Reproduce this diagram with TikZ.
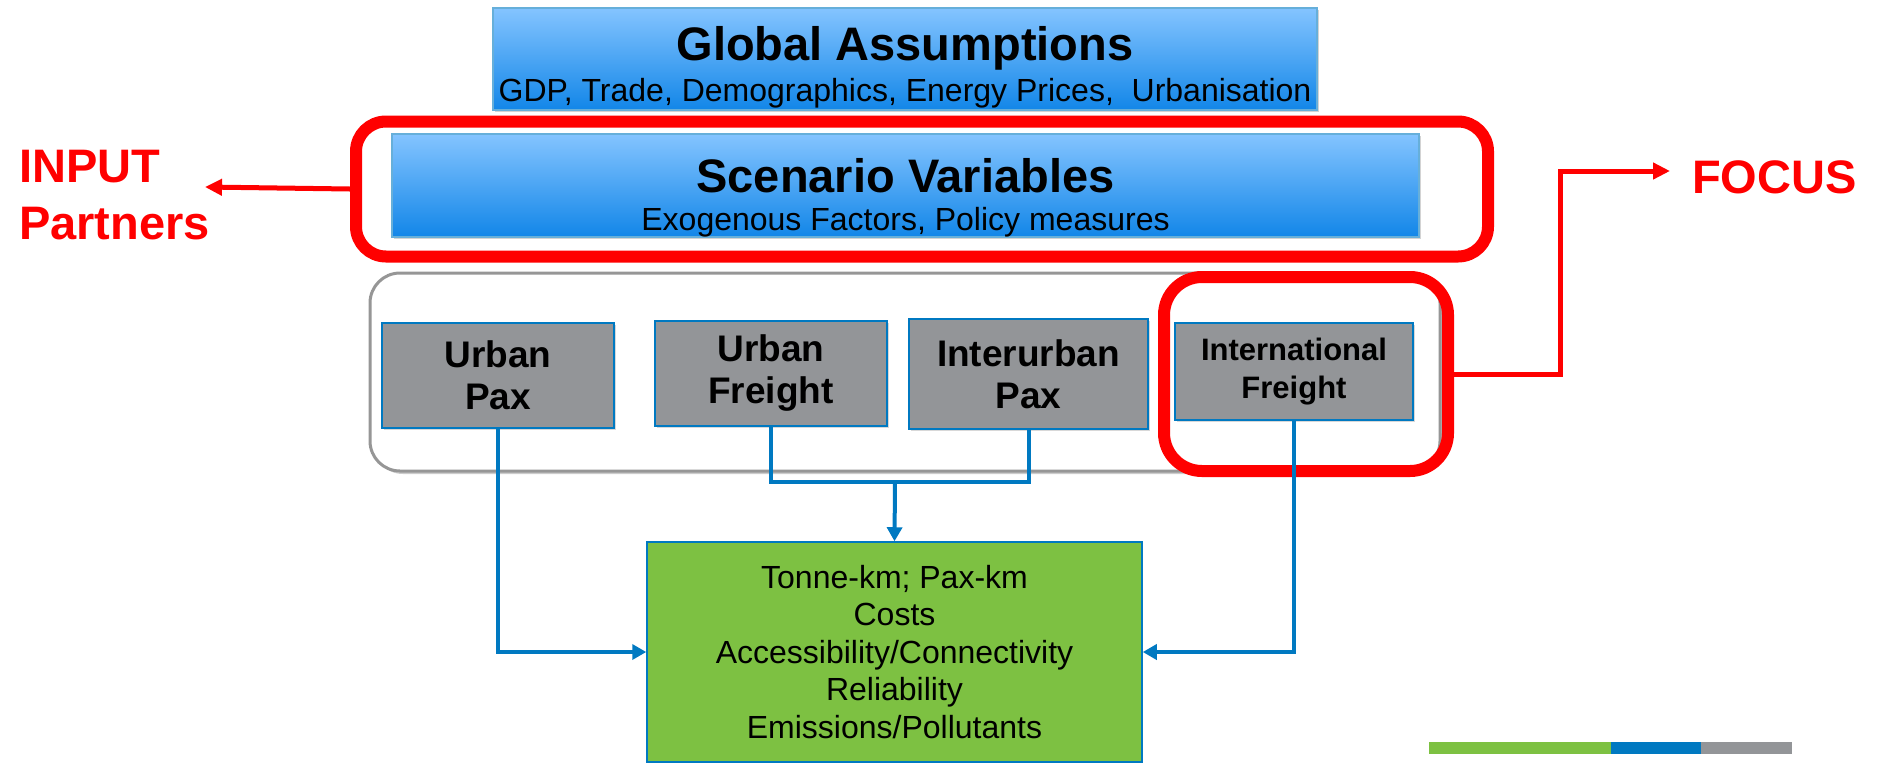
\documentclass[tikz,border=0pt]{standalone}
\usepackage{fontspec}
\setmainfont{Liberation Sans}
\usetikzlibrary{positioning,arrows.meta,shadows}

\definecolor{lightsky}{RGB}{132,196,255}
\definecolor{deepsky}{RGB}{18,134,232}
\definecolor{panelgrey}{RGB}{147,149,152}
\definecolor{leafgreen}{RGB}{125,193,66}
\definecolor{linkblue}{RGB}{0,121,193}
\definecolor{framegrey}{RGB}{150,150,150}

\begin{document}
\begin{tikzpicture}[x=1pt,y=-1pt,
    header/.style={draw=linkblue!60,line width=1.5pt,top color=lightsky,bottom color=deepsky,
      inner sep=0pt,drop shadow={shadow xshift=2pt,shadow yshift=-2pt,opacity=.35}},
    headtitle/.style={font=\fontsize{47}{52}\selectfont\bfseries,inner sep=0pt},
    headsub/.style={font=\fontsize{32}{38}\selectfont,inner sep=0pt},
    mode/.style={draw=linkblue,line width=1.5pt,fill=panelgrey,align=center,inner sep=0pt,
      font=\fontsize{37}{42}\selectfont\bfseries,drop shadow={shadow xshift=2pt,shadow yshift=-2pt,opacity=.3}},
    highlight/.style={draw=red,line width=12pt,rounded corners=30pt},
    flow/.style={draw=linkblue,line width=4pt,-{Triangle[length=14pt,width=15pt]}},
    callout/.style={draw=red,line width=5pt,-{Triangle[length=17pt,width=16pt]}},
    tag/.style={text=red,font=\fontsize{47}{57}\selectfont\bfseries,inner sep=0pt,align=left}]
  \useasboundingbox (0,0) rectangle (1878,764);

  % top: assumptions and scenario
  \node[header,minimum width=824pt,minimum height=102pt] (global) at (905,59) {};
  \node[headtitle,anchor=base] (globaltitle) at (905,60) {Global Assumptions};
  \node[headsub,anchor=base] (globalsub) at (905,101) {GDP, Trade, Demographics, Energy Prices,\ \ Urbanisation};

  \node[header,minimum width=1027pt,minimum height=103pt] (scenario) at (905.5,185.5) {};
  \node[headtitle,anchor=base] (scentitle) at (905.5,192) {Scenario Variables};
  \node[headsub,anchor=base] (scensub) at (905.5,230) {Exogenous Factors, Policy measures};

  \node[highlight,minimum width=1132pt,minimum height=135pt] (scenframe) at (922,189) {};

  % the four transport segments
  \node[draw=framegrey,fill=white,line width=3pt,rounded corners=30pt,minimum width=1070pt,minimum height=198pt,
    drop shadow={shadow xshift=3pt,shadow yshift=-3pt,opacity=.4}] (segments) at (905,372) {};
  \node[mode,minimum width=232pt,minimum height=105pt] (upax) at (498,375.5) {Urban\\Pax};
  \node[mode,minimum width=232pt,minimum height=105pt] (ufreight) at (771,373.5) {Urban\\Freight};
  \node[mode,minimum width=239pt,minimum height=110pt] (ipax) at (1028.5,374) {Interurban\\Pax};
  \node[mode,minimum width=238pt,minimum height=97pt,font=\fontsize{31}{38}\selectfont\bfseries] (ifreight) at (1294,371.5) {International\\Freight};

  \node[highlight,rounded corners=38pt,minimum width=284pt,minimum height=194pt] (focusframe) at (1306,374) {};

  % outputs
  \node[draw=linkblue,line width=1.5pt,fill=leafgreen,minimum width=495pt,minimum height=220pt,
    align=center,font=\fontsize{32}{37.5}\selectfont] (results) at (894.5,652)
    {Tonne-km; Pax-km\\Costs\\Accessibility/Connectivity\\Reliability\\Emissions/Pollutants};

  \coordinate (join) at (895,482);
  \draw[flow] (upax.south) |- (results.west);
  \draw[linkblue,line width=4pt] (ufreight.south) |- (join) -| (ipax.south);
  \draw[flow] (join) -- (results.north);
  \draw[flow] (ifreight.south) |- (results.east);

  % side labels
  \node[tag,anchor=north west] (input) at (19,150) {INPUT\\Partners};
  \coordinate (inputtip) at (205,187);
  \draw[callout] (scenframe.west) -- (inputtip);

  \node[tag,anchor=west] (focus) at (1692,177) {FOCUS};
  \coordinate (focustip) at (1670,171);
  \draw[callout] (focusframe.east) -- (1560,374) |- (focustip);

  % colour strip
  \fill[leafgreen] (1429,742) rectangle (1611,754);
  \fill[linkblue] (1611,742) rectangle (1701,754);
  \fill[panelgrey] (1701,742) rectangle (1792,754);
\end{tikzpicture}
\end{document}
